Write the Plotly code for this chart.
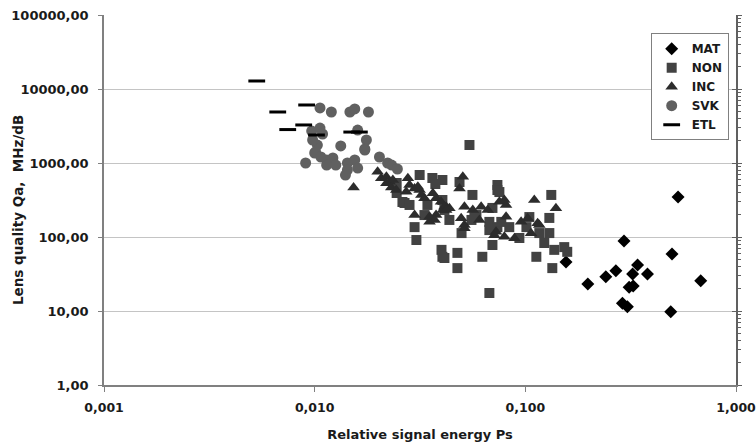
import plotly.graph_objects as go

# ---- data ----
mat_x = [0.156, 0.198, 0.241, 0.269, 0.294, 0.289, 0.305, 0.311, 0.325, 0.323, 0.341, 0.380, 0.531, 0.497, 0.490, 0.680]
mat_y = [46, 23.2, 29, 35, 88, 12.7, 11.4, 20.9, 21.8, 31.6, 41.8, 31.6, 347, 59, 9.8, 25.7]

non_x = [0.0543, 0.0404, 0.0487, 0.0561, 0.0737, 0.0753, 0.0404, 0.0413, 0.0436, 0.0555,
         0.0586, 0.0698, 0.0675, 0.0737, 0.0769, 0.0839, 0.0937, 0.1045, 0.1012, 0.1328,
         0.1300, 0.1165, 0.1300, 0.0698, 0.0625, 0.1128, 0.1372, 0.1530, 0.1581, 0.1343,
         0.0404, 0.0476, 0.0476, 0.0675, 0.0315, 0.0362, 0.0245, 0.0261, 0.0332, 0.0298,
         0.0304, 0.0400, 0.0413, 0.0573, 0.0675, 0.0498, 0.0245, 0.0267, 0.1230, 0.0737,
         0.0282, 0.0343, 0.0374]
non_y = [1750, 589, 554, 370, 504, 405, 316, 232, 170, 170,
         198, 247, 160, 136, 160, 136, 97, 186, 136, 370,
         181, 113, 113, 78, 54, 54, 67, 73, 63, 38,
         54, 61, 38, 17.5, 688, 627, 393, 297, 198, 136,
         91, 67, 52, 186, 124, 113, 537, 288, 83, 431,
         271, 271, 520]

inc_x = [0.0153, 0.0199, 0.0207, 0.0219, 0.0227, 0.0231, 0.0244, 0.0235, 0.0219, 0.0277,
         0.0282, 0.0298, 0.0272, 0.0315, 0.0321, 0.0332, 0.0364, 0.0377, 0.0398, 0.0421,
         0.0298, 0.0351, 0.0377, 0.0406, 0.0309, 0.0413, 0.0436, 0.0351, 0.0371, 0.0505,
         0.0487, 0.0514, 0.0496, 0.0514, 0.0563, 0.0617, 0.0663, 0.0605, 0.0421, 0.0514,
         0.0795, 0.0810, 0.0713, 0.0888, 0.0955, 0.1144, 0.1103, 0.1397, 0.0753, 0.0810,
         0.0726, 0.0795, 0.1026, 0.1165, 0.1064]
inc_y = [468, 763, 621, 653, 559, 468, 431, 589, 532, 621,
         504, 454, 409, 431, 370, 333, 390, 333, 300, 257,
         198, 161, 198, 232, 478, 257, 244, 188, 170, 653,
         454, 257, 179, 145, 232, 257, 232, 170, 232, 131,
         316, 188, 106, 96, 161, 153, 316, 244, 300, 271,
         118, 101, 179, 145, 112]

svk_x = [0.0106, 0.0120, 0.0147, 0.0155, 0.0180, 0.00968, 0.0106, 0.0109, 0.0160, 0.0176,
         0.0173, 0.0133, 0.0103, 0.0100, 0.00906, 0.0114, 0.0122, 0.0114, 0.0143, 0.0155,
         0.0160, 0.0143, 0.0140, 0.0203, 0.0222, 0.0232, 0.0247, 0.0101, 0.0107, 0.0126,
         0.0173, 0.00978]
svk_y = [5540, 4890, 4890, 5370, 4890, 2705, 2970, 2465, 2790, 2046,
         1546, 1698, 1750, 1365, 1000, 1098, 1169, 939, 1000, 1098,
         855, 804, 688, 1205, 1000, 939, 830, 1408, 1205, 939,
         1499, 2046]

etl_x = [0.00531, 0.00668, 0.00916, 0.00745, 0.00887, 0.0102, 0.0150, 0.0163]
etl_y = [12830, 4890, 6080, 2830, 3265, 2390, 2620, 2620]

series_names = ["MAT", "NON", "INC", "SVK", "ETL"]

y_tickvals = [1, 10, 100, 1000, 10000, 100000]
y_ticktext = ["1,00", "10,00", "100,00", "1000,00", "10000,00", "100000,00"]
x_tickvals = [0.001, 0.01, 0.1, 1]
x_ticktext = ["0,001", "0,010", "0,100", "1,000"]
x_title = "Relative signal energy Ps"
y_title = "Lens quality Qa,  MHz/dB"

FONT = "DejaVu Sans"

fig = go.Figure()
fig.add_trace(go.Scatter(x=mat_x, y=mat_y, mode="markers", name=series_names[0],
                         marker=dict(symbol="diamond", size=10, color="#000000")))
fig.add_trace(go.Scatter(x=non_x, y=non_y, mode="markers", name=series_names[1],
                         marker=dict(symbol="square", size=10, color="#424242")))
fig.add_trace(go.Scatter(x=inc_x, y=inc_y, mode="markers", name=series_names[2],
                         marker=dict(symbol="triangle-up", size=11, color="#2c2c2c")))
fig.add_trace(go.Scatter(x=svk_x, y=svk_y, mode="markers", name=series_names[3],
                         marker=dict(symbol="circle", size=11, color="#606060")))
fig.add_trace(go.Scatter(x=etl_x, y=etl_y, mode="markers", name=series_names[4],
                         marker=dict(symbol="line-ew", size=12, color="#000000",
                                     line=dict(width=3, color="#000000"))))
# helper traces so the right-hand mirror axes are drawn
fig.add_trace(go.Scatter(x=[], y=[], yaxis="y2", showlegend=False, hoverinfo="skip"))
fig.add_trace(go.Scatter(x=[], y=[], yaxis="y3", showlegend=False, hoverinfo="skip"))

minor_vals = [m * 10 ** k for k in range(0, 5) for m in range(2, 10)]

right_axis = dict(type="log", range=[0, 5], overlaying="y", side="right", anchor="x",
                  showline=True, linecolor="#606060", linewidth=1.5, automargin=False,
                  tickvals=y_tickvals, showticklabels=False, ticklen=4,
                  tickcolor="#606060", showgrid=False, zeroline=False,
                  minor=dict(tickvals=minor_vals, ticklen=3, tickcolor="#606060", showgrid=False))

fig.update_layout(
    width=756, height=447,
    margin=dict(l=104, r=20, t=15, b=62),
    paper_bgcolor="white", plot_bgcolor="white",
    font=dict(family=FONT, size=13, color="#1a1a1a", weight="bold"),
    xaxis=dict(type="log", range=[-3, 0], tickvals=x_tickvals, ticktext=x_ticktext,
               showline=True, linecolor="#808080", linewidth=1.5, ticks="outside",
               ticklen=5, tickcolor="#808080", showgrid=False, zeroline=False,
               automargin=False, ticklabelstandoff=5, ticklabeloverflow="allow",
               tickfont=dict(size=12.5, weight="bold"),
               title=dict(text=x_title, standoff=16,
                          font=dict(size=13, weight="bold"))),
    yaxis=dict(type="log", range=[0, 5], tickvals=y_tickvals, ticktext=y_ticktext,
               showline=True, linecolor="#808080", linewidth=1.5, ticks="outside",
               ticklen=4, tickcolor="#808080", showgrid=True, gridcolor="#c4c4c4",
               gridwidth=1.2, zeroline=False, automargin=False, ticklabelstandoff=7,
               ticklabeloverflow="allow",
               tickfont=dict(size=13, weight="bold")),
    yaxis2=dict(right_axis, ticks="outside"),
    yaxis3=dict(right_axis, ticks="inside"),
    legend=dict(x=0.865, y=0.951, xanchor="left", yanchor="top",
                bgcolor="white", bordercolor="#808080", borderwidth=1,
                font=dict(family=FONT, size=12, weight="bold", color="#1a1a1a"),
                itemwidth=30, tracegroupgap=0),
    showlegend=True,
    annotations=[dict(text=y_title, xref="paper", yref="paper", x=-0.136, y=0.473,
                      xanchor="center", yanchor="middle", textangle=-90, showarrow=False,
                      font=dict(family=FONT, size=13.5, weight="bold", color="#1a1a1a"))],
)

fig.write_html("out.html")
